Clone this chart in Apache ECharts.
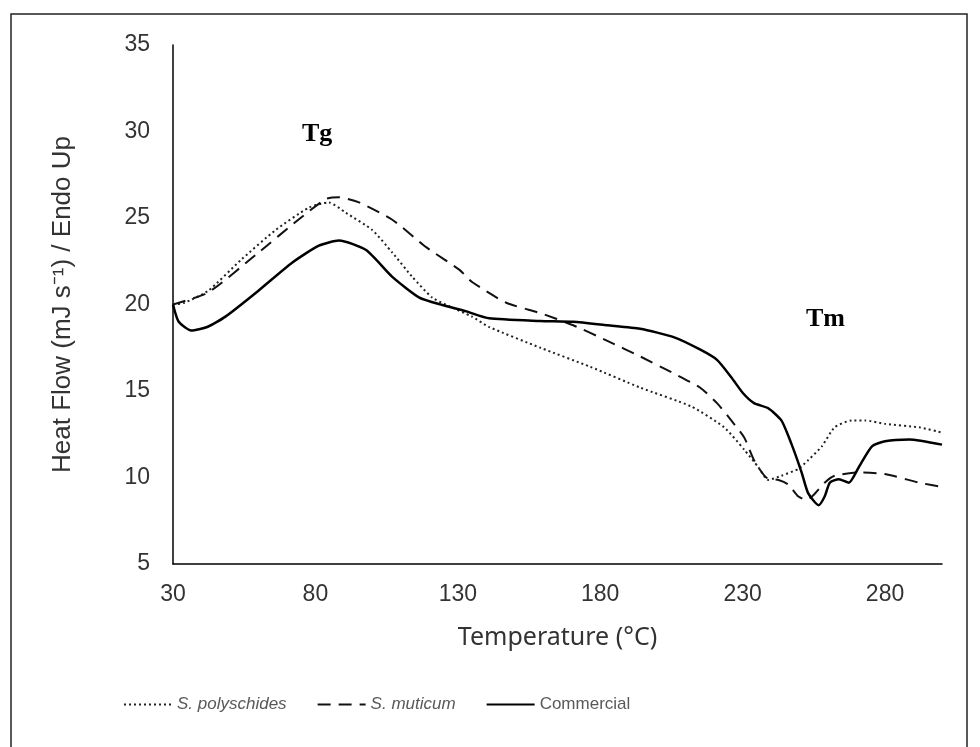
<!DOCTYPE html>
<html>
<head>
<meta charset="utf-8">
<script src="https://cdn.jsdelivr.net/npm/echarts@6/dist/echarts.min.js"></script>
<style>
  html, body { margin: 0; padding: 0; background: #fff; }
  #dsc-chart { width: 980px; height: 747px; }
</style>
</head>
<body>
<div id="dsc-chart"></div>
<script>
  // DSC curves (temperature in °C, heat flow in mJ/s)
  const polyT = [30, 34, 42.4, 54, 66, 77.7, 84.7, 90.7, 100, 107, 114, 121, 127, 135, 141, 159, 176.5, 194, 212, 223.5, 230.6, 235.5, 239, 243.6, 249.6, 253, 257.8, 262.3, 268.3, 273, 280, 292, 300];
  const polyV = [20.0, 20.1, 20.8, 22.6, 24.3, 25.6, 25.9, 25.3, 24.3, 23.0, 21.6, 20.4, 19.9, 19.3, 18.7, 17.5, 16.4, 15.2, 14.1, 12.9, 11.6, 10.6, 9.86, 10.1, 10.5, 11.0, 11.8, 12.9, 13.3, 13.3, 13.1, 12.9, 12.6];

  const mutT = [30, 42.4, 60, 74, 83.7, 88.3, 95.3, 107, 119, 130.6, 135, 147, 159, 170.5, 182.5, 194, 206, 215, 221, 226, 230.6, 234, 238.3, 242.6, 246, 249.6, 252.5, 255, 258.8, 262.3, 270.8, 280, 292, 300];
  const mutV = [20.0, 20.7, 23.0, 24.9, 26.1, 26.2, 25.9, 24.9, 23.3, 22.0, 21.3, 20.1, 19.5, 18.8, 17.9, 17.0, 16.0, 15.2, 14.3, 13.3, 12.3, 11.0, 10.0, 9.86, 9.6, 8.9, 8.7, 9.0, 9.7, 10.1, 10.3, 10.2, 9.7, 9.45];

  const commT = [30, 32, 36.4, 42, 48.4, 60, 71.7, 81.2, 88.3, 97.8, 107, 116.5, 124.6, 133, 141, 159, 170.5, 182.5, 194, 206, 215, 221, 226, 230, 234, 239, 243.6, 247, 250.7, 253, 256.7, 258.8, 260.6, 263.8, 267.3, 270.8, 275.4, 280, 288.5, 300];
  const commV = [20.0, 19.0, 18.5, 18.7, 19.3, 20.8, 22.4, 23.4, 23.7, 23.15, 21.6, 20.4, 19.97, 19.6, 19.2, 19.05, 19.0, 18.8, 18.6, 18.1, 17.4, 16.8, 15.8, 14.9, 14.3, 14.0, 13.3, 12.0, 10.3, 9.1, 8.4, 8.9, 9.7, 9.9, 9.7, 10.6, 11.8, 12.1, 12.2, 11.9];

  const seriesNames = ['S. polyschides', 'S. muticum', 'Commercial'];
  const xTicks = [30, 300, 50];   // min, max, interval
  const yTicks = [5, 35, 5];

  const zip = (xs, ys) => xs.map((x, i) => [x, ys[i]]);

  const TEXT_COLOR = '#333333';
  const AXIS_LINE = { show: true, lineStyle: { color: '#000', width: 1.5 } };

  let myChart = echarts.init(document.getElementById('dsc-chart'));
  let option = {
    animation: false,
    backgroundColor: '#fff',
    grid: {
      left: 173,
      right: 38,
      top: 45,
      bottom: 183
    },
    xAxis: {
      type: 'value',
      min: xTicks[0],
      max: xTicks[1],
      interval: xTicks[2],
      name: 'Temperature (°C)',
      nameLocation: 'middle',
      nameGap: 61,
      nameTextStyle: { fontFamily: 'Noto Sans', fontSize: 25, color: TEXT_COLOR },
      axisLine: AXIS_LINE,
      axisTick: { show: false },
      splitLine: { show: false },
      axisLabel: {
        fontFamily: 'Liberation Sans',
        fontSize: 23,
        color: TEXT_COLOR,
        margin: 19,
        showMaxLabel: false
      }
    },
    yAxis: {
      type: 'value',
      min: yTicks[0],
      max: yTicks[1],
      interval: yTicks[2],
      name: 'Heat Flow (mJ s⁻¹) / Endo Up',
      nameLocation: 'middle',
      nameGap: 97,
      nameTextStyle: { fontFamily: 'Liberation Sans', fontSize: 26, color: TEXT_COLOR },
      axisLine: AXIS_LINE,
      axisTick: { show: false },
      splitLine: { show: false },
      axisLabel: {
        fontFamily: 'Liberation Sans',
        fontSize: 23,
        color: TEXT_COLOR,
        margin: 23
      }
    },
    legend: {
      left: 123,
      top: 696,
      padding: 0,
      itemWidth: 48,
      itemHeight: 14,
      itemGap: 30,
      itemStyle: { opacity: 0 },
      textStyle: { fontFamily: 'Liberation Sans', fontSize: 17, color: '#595959' },
      data: [
        { name: seriesNames[0], textStyle: { fontStyle: 'italic' } },
        { name: seriesNames[1], textStyle: { fontStyle: 'italic' } },
        { name: seriesNames[2] }
      ]
    },
    graphic: [
      {
        type: 'rect',
        shape: { x: 11, y: 14, width: 956, height: 800 },
        style: { fill: 'none', stroke: '#222', lineWidth: 1.5 },
        silent: true
      },
      {
        type: 'text',
        x: 302, y: 134,
        style: { text: 'Tg', font: 'bold 26px "Liberation Serif"', fill: '#000', verticalAlign: 'middle' }
      },
      {
        type: 'text',
        x: 806, y: 319,
        style: { text: 'Tm', font: 'bold 26px "Liberation Serif"', fill: '#000', verticalAlign: 'middle' }
      }
    ],
    series: [
      {
        name: seriesNames[0],
        type: 'line',
        data: zip(polyT, polyV),
        symbol: 'none',
        smooth: 0.2,
        color: '#222',
        lineStyle: { color: '#222', width: 2, type: [2, 3] }
      },
      {
        name: seriesNames[1],
        type: 'line',
        data: zip(mutT, mutV),
        symbol: 'none',
        smooth: 0.2,
        color: '#111',
        lineStyle: { color: '#111', width: 2, type: [13, 8] }
      },
      {
        name: seriesNames[2],
        type: 'line',
        data: zip(commT, commV),
        symbol: 'none',
        smooth: 0.2,
        color: '#000',
        lineStyle: { color: '#000', width: 2.5, type: 'solid' }
      }
    ]
  };
  option && myChart.setOption(option);
</script>
</body>
</html>
